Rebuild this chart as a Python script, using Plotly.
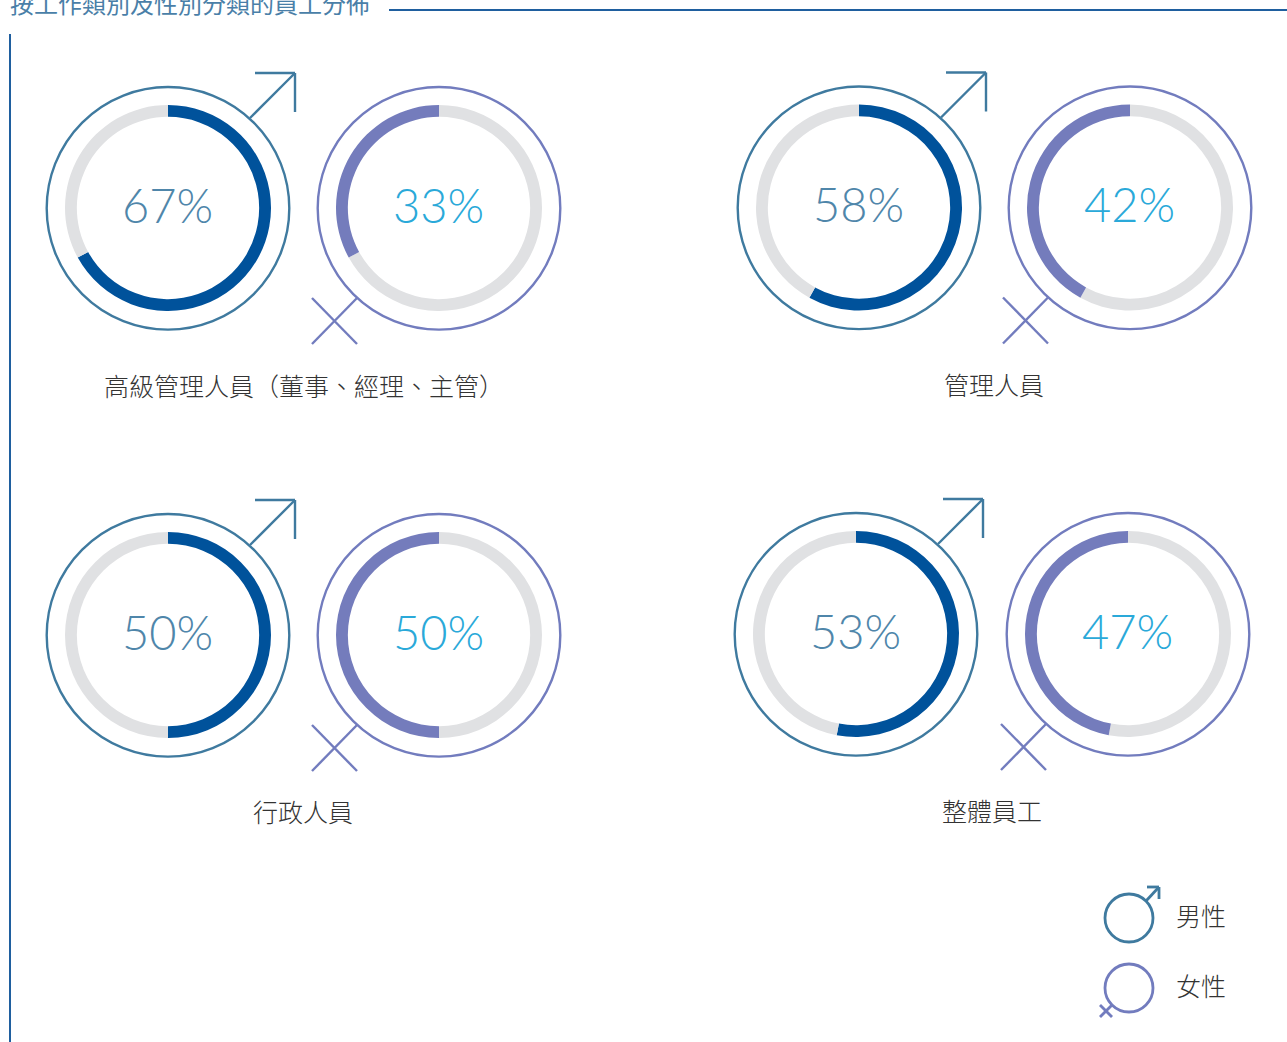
import plotly.graph_objects as go

W, H = 1287, 1042
categories = ["高級管理人員（董事、經理、主管）", "管理人員", "行政人員", "整體員工"]
male_pct = [67, 58, 50, 53]
female_pct = [33, 42, 50, 47]
title_text = "按工作類別及性別分類的員工分佈"
legend_labels = ["男性", "女性"]

male_centers = [(168, 208), (859, 207.5), (168, 635), (856, 634)]
female_centers = [(439, 208), (1130, 207.5), (439, 635), (1128, 634)]
label_pos = [(304, 385), (994, 384), (302.5, 811), (992, 810)]

MALE, FEMALE = "#3f7a9f", "#727cbe"
ARC_M, ARC_F, TRACK = "#00529b", "#747cbc", "#e0e1e3"
TXT_M, TXT_F = "#4f86aa", "#2aa9d9"
CJK = "Noto Sans CJK TC"
NUM = "Lato"
R_DONUT, R_RING = 103, 121.3

fx = lambda px: px / W
fy = lambda py: 1 - py / H

fig = go.Figure()
shapes, annos = [], []


def line(x0, y0, x1, y1, color, width=2.4):
    shapes.append(dict(type="line", xref="paper", yref="paper", x0=fx(x0), y0=fy(y0),
                       x1=fx(x1), y1=fy(y1), line=dict(color=color, width=width)))


def circle(cx, cy, r, color, width=2.4):
    shapes.append(dict(type="circle", xref="paper", yref="paper", x0=fx(cx - r), x1=fx(cx + r),
                       y0=fy(cy + r), y1=fy(cy - r), line=dict(color=color, width=width)))


def text(x, y, s, size, color, anchor="center", family=CJK, weight=300):
    annos.append(dict(xref="paper", yref="paper", x=fx(x), y=fy(y), text=s, showarrow=False,
                      xanchor=anchor, yanchor="middle",
                      font=dict(size=size, color=color, family=family, weight=weight)))


def donut(center, values, colors):
    cx, cy = center
    fig.add_trace(go.Pie(values=values, sort=False, direction="clockwise", rotation=0, hole=0.885,
                         marker=dict(colors=colors, line=dict(width=0)), textinfo="none",
                         showlegend=False, hoverinfo="skip",
                         domain=dict(x=[fx(cx - R_DONUT), fx(cx + R_DONUT)],
                                     y=[fy(cy + R_DONUT), fy(cy - R_DONUT)])))


for i, name in enumerate(categories):
    mx, my = male_centers[i]
    fx_, fy_ = female_centers[i]
    donut((mx, my), [male_pct[i], 100 - male_pct[i]], [ARC_M, TRACK])
    donut((fx_, fy_), [100 - female_pct[i], female_pct[i]], [TRACK, ARC_F])
    circle(mx, my + 0.3, R_RING, MALE)
    circle(fx_, fy_ + 0.3, R_RING, FEMALE)
    line(mx + 82, my - 90, mx + 127, my - 135, MALE)
    line(mx + 87, my - 135, mx + 127, my - 135, MALE)
    line(mx + 127, my - 135, mx + 127, my - 96, MALE)
    line(fx_ - 82, fy_ + 90, fx_ - 127, fy_ + 136, FEMALE)
    line(fx_ - 127, fy_ + 90, fx_ - 82, fy_ + 136, FEMALE)
    text(mx - 1, my - 3.5, f"{male_pct[i]}%", 47, TXT_M, family=NUM, weight=300)
    text(fx_ - 1, fy_ - 3.5, f"{female_pct[i]}%", 47, TXT_F, family=NUM, weight=300)
    text(label_pos[i][0], label_pos[i][1], name, 25, "#333333")

# frame
text(8, 2, title_text, 24, "#4a7fa8", anchor="left", weight=400)
line(389, 10, 1287, 10, "#1f5f9f", 2)
line(10, 34, 10, 1042, "#1f5f9f", 2)

# legend
circle(1129, 918, 24, MALE, 2.8)
line(1146, 901, 1159, 887, MALE, 2.8)
line(1147, 887, 1159, 887, MALE, 2.8)
line(1159, 887, 1159, 899, MALE, 2.8)
circle(1129, 988, 24, FEMALE, 2.8)
line(1112, 1005, 1100, 1017, FEMALE, 2.8)
line(1100, 1005, 1112, 1017, FEMALE, 2.8)
text(1174, 915, legend_labels[0], 25, "#333333", anchor="left")
text(1174, 985, legend_labels[1], 25, "#333333", anchor="left")

fig.update_layout(width=W, height=H, autosize=False, margin=dict(l=0, r=0, t=0, b=0),
                  paper_bgcolor="white", plot_bgcolor="white", shapes=shapes, annotations=annos,
                  showlegend=False)
fig.write_html("out.html", config=dict(displayModeBar=False),
               post_script="document.body.style.margin='0';document.body.style.overflow='hidden';")
